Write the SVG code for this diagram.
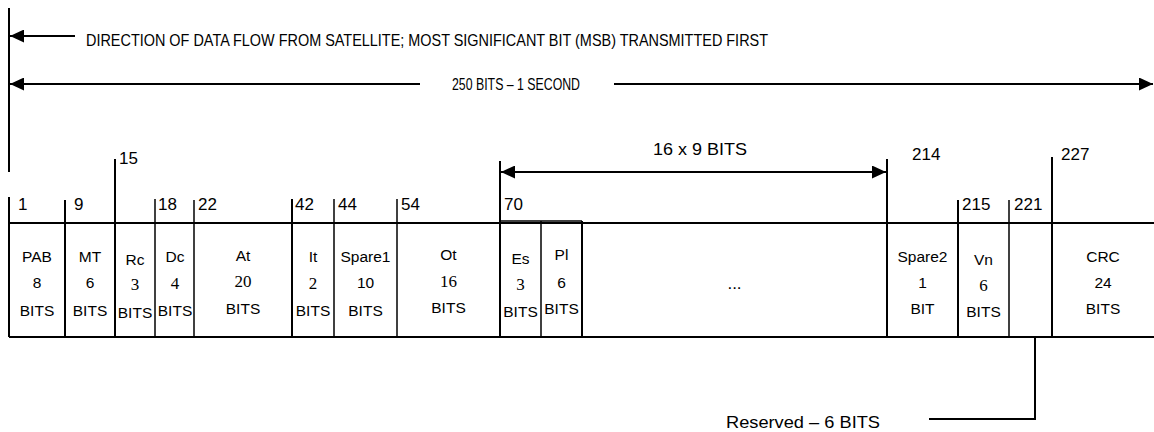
<svg xmlns="http://www.w3.org/2000/svg" width="1154" height="432" viewBox="0 0 1154 432">
<defs>
<style>
.ln{stroke:#000;stroke-width:2;fill:none}
.tn{stroke:#000;stroke-width:1.5;fill:none}
.s{font-family:"Liberation Sans",Arial,sans-serif;font-size:15.5px;fill:#000;text-anchor:middle}
.r{font-family:"Liberation Serif","Times New Roman",serif;font-size:17px;fill:#000;text-anchor:middle}
.tk{font-family:"Liberation Sans",Arial,sans-serif;font-size:17px;fill:#000}
.lb{font-family:"Liberation Sans",Arial,sans-serif;font-size:17px;fill:#000}
</style>
<marker id="ah" viewBox="0 0 14 13" refX="14" refY="6.5" markerWidth="14" markerHeight="13" markerUnits="userSpaceOnUse" orient="auto-start-reverse">
<path d="M0,0 L14,6.5 L0,13 z" fill="#000"/>
</marker>
</defs>
<rect width="1154" height="432" fill="#fff"/>

<g id="frame">
<line class="ln" x1="9" y1="8" x2="9" y2="172"/>
<line class="ln" x1="9" y1="223" x2="1154" y2="223"/>
<line class="ln" x1="9" y1="337" x2="1154" y2="337"/>
</g>

<g id="connectors">
<line class="ln" x1="75" y1="36" x2="10" y2="36" marker-end="url(#ah)"/>
<line class="ln" x1="420" y1="84" x2="10" y2="84" marker-end="url(#ah)"/>
<line class="ln" x1="614" y1="84" x2="1153" y2="84" marker-end="url(#ah)"/>
<line class="ln" x1="501" y1="172" x2="886" y2="172" marker-start="url(#ah)" marker-end="url(#ah)"/>
<polyline class="ln" points="1035,337 1035,419 929,419"/>
</g>

<g id="labels">
<text class="lb" x="86" y="46" textLength="682" lengthAdjust="spacingAndGlyphs">DIRECTION OF DATA FLOW FROM SATELLITE; MOST SIGNIFICANT BIT (MSB) TRANSMITTED FIRST</text>
<text class="lb" x="452" y="90" textLength="128" lengthAdjust="spacingAndGlyphs">250 BITS – 1 SECOND</text>
<text class="lb" x="653" y="155" textLength="94" lengthAdjust="spacingAndGlyphs">16 x 9 BITS</text>
<text class="lb" x="726" y="428" textLength="154" lengthAdjust="spacingAndGlyphs">Reserved – 6 BITS</text>
</g>

<g id="ticks">
<line class="ln" x1="9" y1="197" x2="9" y2="337"/><text class="tk" x="18" y="210">1</text>
<line class="ln" x1="65" y1="200" x2="65" y2="337"/><text class="tk" x="74" y="210">9</text>
<line class="ln" x1="115" y1="159" x2="115" y2="337"/><text class="tk" x="119" y="164">15</text>
<line class="tn" x1="155" y1="199" x2="155" y2="337"/><text class="tk" x="158" y="210">18</text>
<line class="tn" x1="194" y1="200" x2="194" y2="337"/><text class="tk" x="198" y="210">22</text>
<line class="ln" x1="292" y1="199" x2="292" y2="337"/><text class="tk" x="295" y="210">42</text>
<line class="tn" x1="334" y1="199" x2="334" y2="337"/><text class="tk" x="338" y="210">44</text>
<line class="tn" x1="397" y1="199" x2="397" y2="337"/><text class="tk" x="401" y="210">54</text>
<line class="ln" x1="500" y1="161" x2="500" y2="337"/><text class="tk" x="504" y="210">70</text>
<line class="ln" x1="887" y1="159" x2="887" y2="337"/><text class="tk" x="912" y="160">214</text>
<line class="ln" x1="958" y1="200" x2="958" y2="337"/><text class="tk" x="962" y="210">215</text>
<line class="tn" x1="1009" y1="200" x2="1009" y2="337"/><text class="tk" x="1014" y="210">221</text>
<line class="ln" x1="1052" y1="157" x2="1052" y2="337"/><text class="tk" x="1061" y="160">227</text>
</g>

<g id="field-PAB"><text class="s" x="37" y="262">PAB</text><text class="s" x="37" y="288">8</text><text class="s" x="37" y="316">BITS</text></g>
<g id="field-MT"><text class="s" x="90" y="262">MT</text><text class="s" x="90" y="288">6</text><text class="s" x="90" y="316">BITS</text></g>
<g id="field-Rc"><text class="s" x="135" y="265">Rc</text><text class="r" x="135" y="290">3</text><text class="s" x="135" y="318">BITS</text></g>
<g id="field-Dc"><text class="s" x="175" y="262">Dc</text><text class="r" x="175" y="289">4</text><text class="s" x="175" y="316">BITS</text></g>
<g id="field-At"><text class="s" x="243" y="261">At</text><text class="r" x="243" y="287">20</text><text class="s" x="243" y="314">BITS</text></g>
<g id="field-It"><text class="s" x="313" y="262">It</text><text class="r" x="313" y="289">2</text><text class="s" x="313" y="316">BITS</text></g>
<g id="field-Spare1"><text class="s" x="365.5" y="262">Spare1</text><text class="s" x="365.5" y="288">10</text><text class="s" x="365.5" y="316">BITS</text></g>
<g id="field-Ot"><text class="s" x="448.5" y="260">Ot</text><text class="r" x="448.5" y="287">16</text><text class="s" x="448.5" y="313">BITS</text></g>
<g id="field-Es"><line class="tn" x1="500" y1="221" x2="541" y2="221"/><text class="s" x="520.5" y="264">Es</text><text class="r" x="520.5" y="290">3</text><text class="s" x="520.5" y="317">BITS</text></g>
<g id="field-Pl"><line class="tn" x1="541" y1="221" x2="541" y2="337"/><line class="ln" x1="582" y1="221" x2="582" y2="337"/><line class="tn" x1="541" y1="221" x2="582" y2="221"/><text class="s" x="561.5" y="260">Pl</text><text class="s" x="561.5" y="288">6</text><text class="s" x="561.5" y="314">BITS</text></g>
<g id="field-repeat"><text class="s" x="734.5" y="289" style="font-size:17px">...</text></g>
<g id="field-Spare2"><text class="s" x="922.5" y="262">Spare2</text><text class="s" x="922.5" y="288">1</text><text class="s" x="922.5" y="314">BIT</text></g>
<g id="field-Vn"><text class="s" x="983.5" y="265">Vn</text><text class="r" x="983.5" y="291">6</text><text class="s" x="983.5" y="317">BITS</text></g>
<g id="field-Reserved"></g>
<g id="field-CRC"><text class="s" x="1103" y="262">CRC</text><text class="s" x="1103" y="288">24</text><text class="s" x="1103" y="314">BITS</text></g>
</svg>
